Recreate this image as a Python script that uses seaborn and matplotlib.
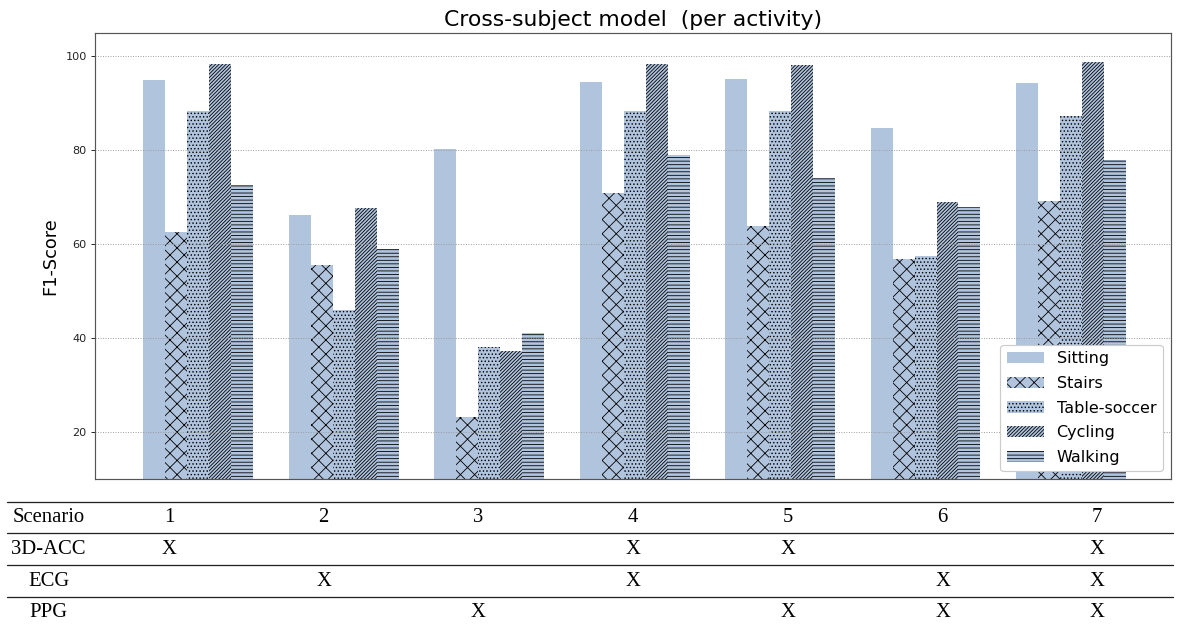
import numpy as np
import pandas as pd
import matplotlib
matplotlib.use("Agg")
import matplotlib.pyplot as plt
from matplotlib.patches import Patch
from matplotlib.lines import Line2D
import seaborn as sns

# ---- data -------------------------------------------------------------
scenarios = ["1", "2", "3", "4", "5", "6", "7"]
activities = ["Sitting", "Stairs", "Table-soccer", "Cycling", "Walking"]

sitting = [95.0, 66.3, 80.2, 94.6, 95.1, 84.8, 94.4]
stairs = [62.7, 55.5, 23.2, 70.9, 63.8, 56.8, 69.3]
table_soccer = [88.4, 46.0, 38.1, 88.4, 88.3, 57.6, 87.2]
cycling = [98.3, 67.8, 37.4, 98.4, 98.2, 69.0, 98.7]
walking = [72.6, 58.9, 41.2, 78.9, 74.0, 68.0, 78.0]

hatches = ["", "xx", "....", "////////", "----"]

# sensor configuration per scenario (table under the chart)
row_labels = ["Scenario", "3D-ACC", "ECG", "PPG"]
acc_used = [1, 0, 0, 1, 1, 0, 1]
ecg_used = [0, 1, 0, 1, 0, 1, 1]
ppg_used = [0, 0, 1, 0, 1, 1, 1]

# ---- styling ----------------------------------------------------------
sns.set_style("ticks")
plt.rcParams["font.family"] = ["DejaVu Sans"]
plt.rcParams["text.color"] = "black"
plt.rcParams["axes.labelcolor"] = "black"
plt.rcParams["hatch.linewidth"] = 0.7

bar_color = "#B0C4DE"
DPI = 85
W, H = 1177, 626

df = pd.DataFrame({
    "Scenario": scenarios * len(activities),
    "Activity": np.repeat(activities, len(scenarios)),
    "F1": sitting + stairs + table_soccer + cycling + walking,
})

fig = plt.figure(figsize=(W / DPI, H / DPI), dpi=DPI)
ax = fig.add_axes([0.0807, 0.2343, 0.9139, 0.7135])

sns.barplot(
    data=df, x="Scenario", y="F1", hue="Activity",
    order=scenarios, hue_order=activities,
    palette={a: bar_color for a in activities},
    saturation=1, width=0.755, linewidth=0, edgecolor="black",
    errorbar=None, legend=False, ax=ax,
)

for container, h in zip(ax.containers, hatches):
    for bar in container:
        bar.set_hatch(h)
        bar.set_edgecolor("black")
        bar.set_linewidth(0)

ax.set_xlim(-0.71, 6.685)
ax.set_ylim(10, 105)
ax.set_yticks([20, 40, 60, 80, 100])
ax.set_xticks([])
ax.set_xlabel("")
ax.set_ylabel("F1-Score", fontsize=15, labelpad=5)
ax.set_title("Cross-subject model  (per activity)", fontsize=18.5, pad=6)
ax.tick_params(axis="y", labelsize=9.5, length=3.5, width=0.8, colors="#222222")

ax.set_axisbelow("line")
ax.yaxis.grid(True, linestyle=":", color="#999999", linewidth=0.8)
ax.xaxis.grid(False)
for side in ["left", "right", "top", "bottom"]:
    ax.spines[side].set_visible(True)
    ax.spines[side].set_color("#555555")
    ax.spines[side].set_linewidth(1.0)

handles = [
    Patch(facecolor=bar_color, edgecolor="black", linewidth=0, hatch=h, label=a)
    for a, h in zip(activities, hatches)
]
ax.legend(handles=handles, loc="lower right", fontsize=13.6, framealpha=1,
          edgecolor="#cccccc", handlelength=2.3, labelspacing=0.6,
          borderaxespad=0.5)

# ---- sensor table -----------------------------------------------------
def fx(px):
    return px / W

def fy(px):
    return 1 - px / H

serif = ["Liberation Serif", "DejaVu Serif"]
tsize = 17.5
line_y = [502, 533, 565, 597]
row_y = [517.5, 549.5, 581.5, 612.5]
col_x = [169 + i * 154.7 for i in range(len(scenarios))]
label_x = 48.5

for y in line_y:
    fig.add_artist(Line2D([fx(7), fx(1173)], [fy(y), fy(y)], color="#222222",
                          linewidth=1.1, transform=fig.transFigure))

for lab, y in zip(row_labels, row_y):
    fig.text(fx(label_x), fy(y), lab, ha="center", va="center",
             family=serif, fontsize=tsize)

for s, x in zip(scenarios, col_x):
    fig.text(fx(x), fy(row_y[0]), s, ha="center", va="center",
             family=serif, fontsize=tsize)

for used, y in zip([acc_used, ecg_used, ppg_used], row_y[1:]):
    for flag, x in zip(used, col_x):
        if flag:
            fig.text(fx(x), fy(y), "X", ha="center", va="center",
                     family=serif, fontsize=tsize)

fig.savefig("out.png", dpi=DPI)
